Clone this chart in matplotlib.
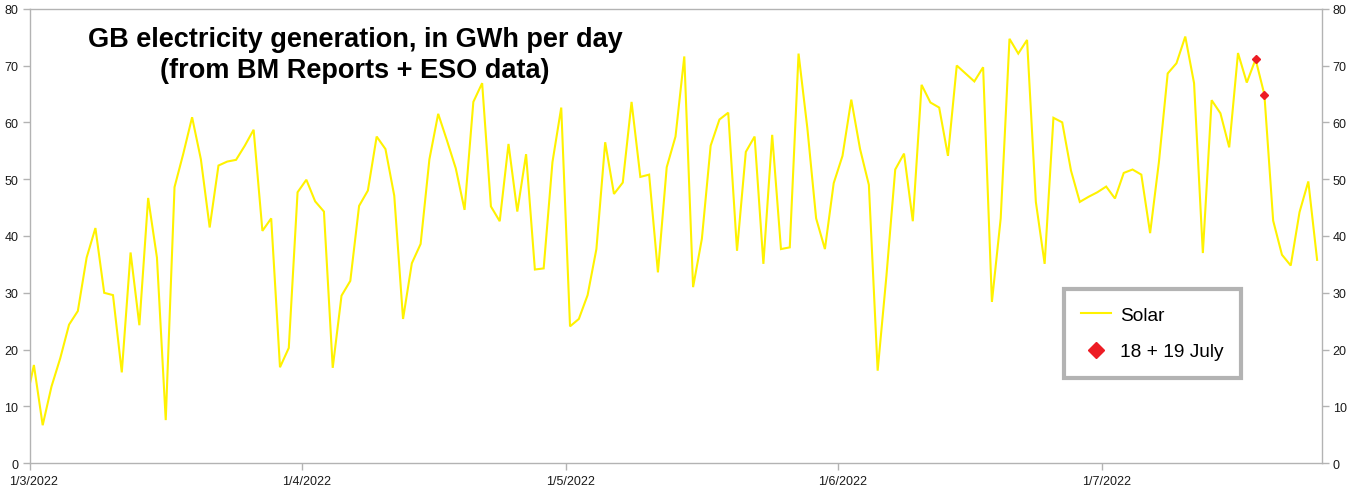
import numpy as np
import matplotlib
matplotlib.use("Agg")
import matplotlib.pyplot as plt
import matplotlib.dates as mdates
from matplotlib.lines import Line2D
import datetime as dt

plt.rcParams['font.family'] = ['Liberation Sans', 'DejaVu Sans']

# ---------------- data (GWh per day, solar) ----------------
start_date = dt.date(2022, 2, 28)   # first value lies just left of the axis
solar = [
    10.0,
    # March
    17.3, 6.7, 13.5, 18.5, 24.4, 26.8, 36.2, 41.4, 30.0, 29.6,
    16.0, 37.1, 24.3, 46.7, 36.2, 7.6, 48.6, 54.5, 60.9, 53.5,
    41.5, 52.4, 53.1, 53.4, 55.9, 58.7, 40.9, 43.1, 16.9, 20.3, 47.7,
    # April
    49.9, 46.1, 44.3, 16.8, 29.5, 32.1, 45.3, 48.0, 57.5, 55.3,
    47.1, 25.4, 35.2, 38.6, 53.5, 61.5, 56.8, 51.9, 44.6, 63.6,
    66.9, 45.2, 42.6, 56.2, 44.3, 54.4, 34.1, 34.3, 53.0, 62.6,
    # May
    24.1, 25.4, 29.6, 37.7, 56.5, 47.4, 49.4, 63.6, 50.4, 50.8,
    33.6, 52.1, 57.5, 71.6, 31.0, 39.5, 55.9, 60.5, 61.7, 37.4,
    54.8, 57.5, 35.1, 57.8, 37.7, 38.0, 72.1, 59.0, 43.1, 37.7, 49.3,
    # June
    54.1, 64.0, 55.3, 49.0, 16.3, 33.0, 51.7, 54.5, 42.6, 66.6,
    63.5, 62.6, 54.1, 70.0, 68.6, 67.2, 69.7, 28.4, 43.1, 74.7,
    72.1, 74.5, 46.0, 35.1, 60.8, 60.0, 51.5, 46.0, 46.9, 47.7,
    # July
    48.7, 46.6, 51.1, 51.7, 50.8, 40.5, 53.0, 68.6, 70.4, 75.1,
    66.9, 37.0, 63.9, 61.6, 55.6, 72.2, 67.0, 71.1, 64.9, 42.7,
    36.7, 34.8, 44.2, 49.6, 35.8,
]
highlight_dates = [dt.date(2022, 7, 18), dt.date(2022, 7, 19)]
highlight_vals = [71.1, 64.9]

tick_dates = [dt.date(2022, 3, 1), dt.date(2022, 4, 1), dt.date(2022, 5, 1),
              dt.date(2022, 6, 1), dt.date(2022, 7, 1)]
tick_labels = ["1/3/2022", "1/4/2022", "1/5/2022", "1/6/2022", "1/7/2022"]
y_ticks = [0, 10, 20, 30, 40, 50, 60, 70, 80]

title = "GB electricity generation, in GWh per day\n(from BM Reports + ESO data)"
series_label = "Solar"
highlight_label = "18 + 19 July"

# ---------------- figure ----------------
W, H = 1349, 489
fig = plt.figure(figsize=(W / 100, H / 100), dpi=100)
ax = fig.add_axes([29.5 / W, 1 - 464.3 / H, (1321.5 - 29.5) / W, (464.3 - 9.7) / H])

half = dt.timedelta(hours=12)
x = [dt.datetime.combine(start_date, dt.time()) + dt.timedelta(days=i) + half
     for i in range(len(solar))]
xh = [dt.datetime.combine(d, dt.time()) + half for d in highlight_dates]

line_color = '#fff200'
red = '#ed1c24'
grey = '#b3b3b3'

ax.plot(x, solar, color=line_color, lw=1.5, solid_joinstyle='miter', zorder=2)
ax.plot(xh, highlight_vals, linestyle='none', marker='D', markersize=4.5,
        color=red, zorder=3)

ax.set_xlim(dt.datetime(2022, 3, 1), dt.datetime(2022, 7, 26))
ax.set_ylim(0, 80)

# major ticks at month starts (marks only), minor ticks at noon carry labels
ax.set_xticks([dt.datetime.combine(d, dt.time()) for d in tick_dates])
ax.set_xticklabels([""] * len(tick_dates))
ax.set_xticks([dt.datetime.combine(d, dt.time()) + half for d in tick_dates], minor=True)
ax.set_xticklabels(tick_labels, minor=True)
ax.tick_params(axis='x', which='major', length=5, width=1, color=grey, direction='out')
ax.tick_params(axis='x', which='minor', length=0, pad=8.5, labelsize=9, labelcolor='#1a1a1a')

ax.set_yticks(y_ticks)
ax.set_yticklabels([str(v) for v in y_ticks])
ax.tick_params(axis='y', which='major', length=5, width=1, color=grey, direction='out',
               left=True, right=True, labelleft=True, labelright=True,
               labelsize=9, labelcolor='#1a1a1a', pad=3)

for s in ax.spines.values():
    s.set_color(grey)
    s.set_linewidth(1)

ax.text(355 / W, 1 - 27 / H, title, transform=fig.transFigure, ha='center', va='top',
        fontsize=19.5, fontweight='bold', color='black', linespacing=1.25,
        multialignment='center')

handles = [Line2D([], [], color=line_color, lw=1.5),
           Line2D([], [], color=red, linestyle='none', marker='D', markersize=8)]
leg = ax.legend(handles, [series_label, highlight_label], loc='upper left',
                bbox_to_anchor=(1064 / W, 1 - 290 / H), bbox_transform=fig.transFigure,
                borderaxespad=0, fancybox=False, frameon=True, prop={'size': 13.8},
                handlelength=1.56, handletextpad=0.47, borderpad=0.9, labelspacing=1.0)
fr = leg.get_frame()
fr.set_edgecolor(grey)
fr.set_linewidth(3)
fr.set_facecolor('white')
fr.set_alpha(1)

fig.savefig("out.png", dpi=100)
